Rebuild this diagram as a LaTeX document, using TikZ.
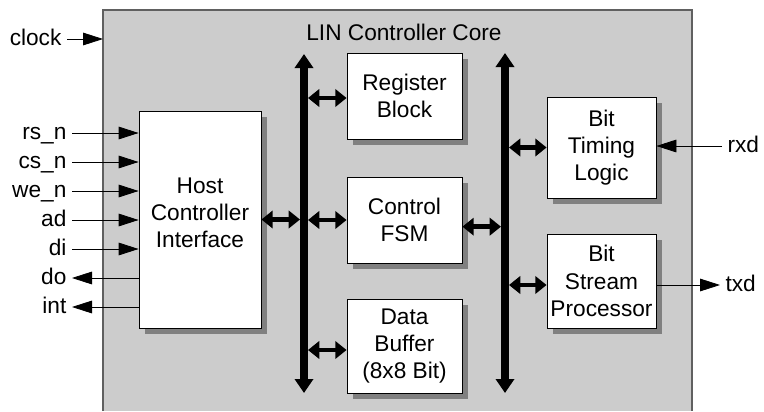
\documentclass[tikz,border=0pt]{standalone}
\usepackage{fontspec}
\setmainfont{Liberation Sans}
\usetikzlibrary{arrows.meta,shadows}
\definecolor{coregray}{RGB}{204,204,204}
\definecolor{shadegray}{RGB}{128,128,128}
\definecolor{edgegray}{RGB}{96,96,96}
\begin{document}
\begin{tikzpicture}[x=0.75pt,y=-0.75pt,
  every node/.style={font=\fontsize{17}{20.5}\selectfont},
  block/.style={draw,fill=white,line width=0.6pt,align=center,inner sep=0pt,
    drop shadow={shadow xshift=4.5pt,shadow yshift=-4.5pt,fill=shadegray,opacity=1}},
  sig/.style={line width=0.6pt,-{Triangle[length=15pt,width=9.5pt]}},
  bus/.style={line width=6pt,{Triangle[length=10.5pt,width=13.5pt]}-{Triangle[length=10.5pt,width=13.5pt]}},
  link/.style={line width=3.5pt,{Triangle[length=8.5pt,width=13pt]}-{Triangle[length=8.5pt,width=13pt]}},
  pin/.style={inner xsep=4pt,text height=12pt,text depth=3pt}]
  \useasboundingbox (0,0) rectangle (764,411);
  \fill[coregray] (103,10) rectangle (692,411);
  \draw[edgegray,line width=0.8pt] (103,411) -- (103,10) coordinate (corenw) -- (692,10) -- (692,411);
  \node (title) at (404,32) {LIN Controller Core};

  \node[block,minimum width=91.5pt,minimum height=162.75pt,
    label={[align=center,yshift=5pt]center:Host\\Controller\\Interface}] (host) at (200,219.5) {};
  \node[block,minimum width=86.25pt,minimum height=64.5pt] (reg) at (404.5,96) {Register\\Block};
  \node[block,minimum width=86.25pt,minimum height=64.5pt] (fsm) at (404.5,220) {Control\\FSM};
  \node[block,minimum width=86.25pt,minimum height=70.5pt] (buf) at (404.5,346) {Data\\Buffer\\(8x8 Bit)};
  \node[block,minimum width=81.75pt,minimum height=75.75pt] (timing) at (601.5,147.5) {Bit\\Timing\\Logic};
  \node[block,minimum width=81.75pt,minimum height=70.5pt] (stream) at (601.5,281) {Bit\\Stream\\Processor};

  \coordinate (b1t) at (304,54);
  \coordinate (b1b) at (304,393);
  \coordinate (b2t) at (505,53);
  \coordinate (b2b) at (505,393);
  \draw[bus] (b1t) -- (b1b);
  \draw[bus] (b2t) -- (b2b);

  \draw[link,shorten >=3pt] (host.east) -- (host.east -| b1t);
  \coordinate (regin) at ([yshift=-1.5pt]reg.west);
  \draw[link,shorten <=3pt] (b1t |- regin) -- (regin);
  \draw[link,shorten <=3pt] (b1t |- fsm.west) -- (fsm.west);
  \coordinate (bufin) at ([yshift=-3pt]buf.west);
  \draw[link,shorten <=3pt] (b1t |- bufin) -- (bufin);
  \coordinate (fsmout) at ([yshift=-5pt]fsm.east);
  \draw[link,shorten >=3pt] (fsmout) -- (fsmout -| b2t);
  \draw[link,shorten <=3pt] (b2t |- timing.west) -- (timing.west);
  \coordinate (streamin) at ([yshift=-3pt]stream.west);
  \draw[link,shorten <=3pt] (b2t |- streamin) -- (streamin);

  \node[pin,anchor=east] (clock) at (67,39) {clock};
  \draw[sig] (clock) -- (clock -| corenw);
  \foreach \lbl [count=\i] in {rs\_n,cs\_n,we\_n,ad,di}{
    \node[pin,anchor=east] (in\i) at (72,{104+29*\i}) {\lbl};
    \draw[sig] (in\i) -- (in\i -| host.west);
  }
  \foreach \lbl [count=\i from 6] in {do,int}{
    \node[pin,anchor=east] (out\i) at (72,{104+29*\i}) {\lbl};
    \draw[sig] (out\i -| host.west) -- (out\i);
  }
  \node[pin,anchor=west] (rxd) at (722,146) {rxd};
  \draw[sig] (rxd) -- (rxd -| timing.east);
  \node[pin,anchor=west] (txd) at (720,285) {txd};
  \draw[sig] (txd -| stream.east) -- (txd);
\end{tikzpicture}
\end{document}
